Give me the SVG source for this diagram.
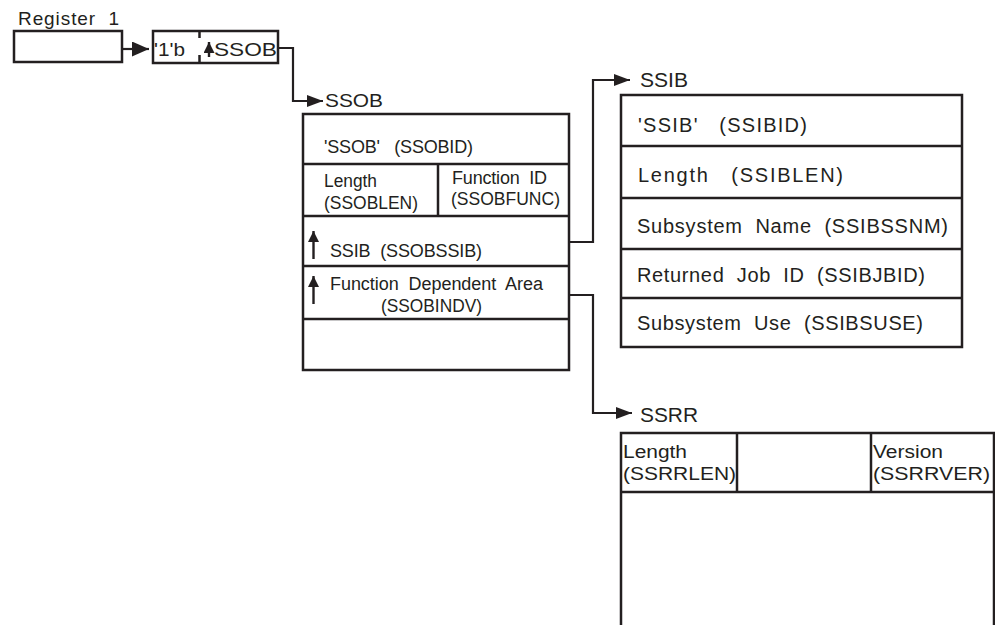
<svg xmlns="http://www.w3.org/2000/svg" width="995" height="625" viewBox="0 0 995 625">
<defs>
<marker id="ahL" viewBox="0 0 17 15" refX="17" refY="7.5" markerWidth="17" markerHeight="15" markerUnits="userSpaceOnUse" orient="auto">
<path d="M0,0 L17,7.5 L0,15 Z" fill="#231f20"/>
</marker>
<marker id="ah" viewBox="0 0 16 12" refX="16" refY="6" markerWidth="16" markerHeight="12" markerUnits="userSpaceOnUse" orient="auto">
<path d="M0,0 L16,6 L0,12 Z" fill="#231f20"/>
</marker>
<marker id="ahs" viewBox="0 0 11 11" refX="11" refY="5.5" markerWidth="11" markerHeight="11" markerUnits="userSpaceOnUse" orient="auto">
<path d="M0,0 L11,5.5 L0,11 Z" fill="#231f20"/>
</marker>
</defs>
<style>
.box{fill:none;stroke:#231f20;stroke-width:2.5}
.ln{fill:none;stroke:#231f20;stroke-width:2.5}
.cn{fill:none;stroke:#231f20;stroke-width:2.2}
.up{fill:none;stroke:#231f20;stroke-width:2.4}
text{font-family:"Liberation Sans",Arial,sans-serif;fill:#231f20;white-space:pre}
.s18{font-size:18px}
.s19{font-size:19px}
.s20{font-size:20px}
</style>
<rect width="995" height="625" fill="#fff"/>

<g id="register1">
<text class="s19" x="18" y="25" textLength="101" lengthAdjust="spacing">Register  1</text>
<rect class="box" x="14" y="31" width="108" height="31"/>
</g>

<g id="pointer">
<rect class="box" x="153" y="31" width="125" height="32"/>
<line class="ln" x1="199.5" y1="31" x2="199.5" y2="38"/>
<line class="ln" x1="199.5" y1="55" x2="199.5" y2="63"/>
<text class="s19" x="154" y="56" textLength="31" lengthAdjust="spacingAndGlyphs">'1'b</text>
<line class="up" x1="209" y1="57" x2="209" y2="42" marker-end="url(#ahs)"/>
<text class="s19" x="214" y="56" textLength="63" lengthAdjust="spacingAndGlyphs">SSOB</text>
</g>

<g id="ssob">
<text class="s19" x="325" y="107" textLength="58" lengthAdjust="spacingAndGlyphs">SSOB</text>
<rect class="box" x="303" y="114" width="266" height="256"/>
<line class="ln" x1="303" y1="164" x2="569" y2="164"/>
<line class="ln" x1="303" y1="216" x2="569" y2="216"/>
<line class="ln" x1="303" y1="266" x2="569" y2="266"/>
<line class="ln" x1="303" y1="319" x2="569" y2="319"/>
<line class="ln" x1="438" y1="164" x2="438" y2="216"/>
<text class="s18" x="324" y="153" textLength="149" lengthAdjust="spacing">'SSOB'   (SSOBID)</text>
<text class="s18" x="324" y="187" textLength="53" lengthAdjust="spacingAndGlyphs">Length</text>
<text class="s18" x="324" y="209" textLength="94" lengthAdjust="spacingAndGlyphs">(SSOBLEN)</text>
<text class="s18" x="452" y="184" textLength="95" lengthAdjust="spacing">Function  ID</text>
<text class="s18" x="451" y="205" textLength="109" lengthAdjust="spacingAndGlyphs">(SSOBFUNC)</text>
<line class="up" x1="313.5" y1="259" x2="313.5" y2="231" marker-end="url(#ahs)"/>
<text class="s18" x="330" y="257" textLength="152" lengthAdjust="spacing">SSIB  (SSOBSSIB)</text>
<line class="up" x1="313.5" y1="304" x2="313.5" y2="276" marker-end="url(#ahs)"/>
<text class="s18" x="330" y="290" textLength="213" lengthAdjust="spacing">Function  Dependent  Area</text>
<text class="s18" x="381" y="312" textLength="101" lengthAdjust="spacingAndGlyphs">(SSOBINDV)</text>
</g>

<g id="ssib">
<text class="s20" x="640" y="87" textLength="48" lengthAdjust="spacingAndGlyphs">SSIB</text>
<rect class="box" x="621" y="95" width="341" height="252"/>
<line class="ln" x1="621" y1="146" x2="962" y2="146"/>
<line class="ln" x1="621" y1="198" x2="962" y2="198"/>
<line class="ln" x1="621" y1="249" x2="962" y2="249"/>
<line class="ln" x1="621" y1="298" x2="962" y2="298"/>
<text class="s20" x="638" y="132" textLength="169" lengthAdjust="spacing">'SSIB'   (SSIBID)</text>
<text class="s20" x="638" y="182" textLength="205" lengthAdjust="spacing">Length   (SSIBLEN)</text>
<text class="s20" x="637" y="233" textLength="311" lengthAdjust="spacing">Subsystem  Name  (SSIBSSNM)</text>
<text class="s20" x="637" y="282" textLength="288" lengthAdjust="spacing">Returned  Job  ID  (SSIBJBID)</text>
<text class="s20" x="637" y="330" textLength="286" lengthAdjust="spacing">Subsystem  Use  (SSIBSUSE)</text>
</g>

<g id="ssrr">
<text class="s20" x="640" y="422" textLength="58" lengthAdjust="spacingAndGlyphs">SSRR</text>
<path class="box" d="M621,625 L621,433 L994,433 L994,625"/>
<line class="ln" x1="621" y1="492" x2="994" y2="492"/>
<line class="ln" x1="737" y1="433" x2="737" y2="492"/>
<line class="ln" x1="871" y1="433" x2="871" y2="492"/>
<text class="s18" x="623" y="458" textLength="64" lengthAdjust="spacingAndGlyphs">Length</text>
<text class="s18" x="623" y="480" textLength="113" lengthAdjust="spacingAndGlyphs">(SSRRLEN)</text>
<text class="s18" x="873" y="458" textLength="70" lengthAdjust="spacingAndGlyphs">Version</text>
<text class="s18" x="873" y="480" textLength="117" lengthAdjust="spacingAndGlyphs">(SSRRVER)</text>
</g>

<g id="connectors">
<line class="cn" x1="122" y1="49" x2="149" y2="49" marker-end="url(#ahL)"/>
<polyline class="cn" points="278,48 293,48 293,101 323,101" marker-end="url(#ah)"/>
<polyline class="cn" points="569,242 593,242 593,80 630,80" marker-end="url(#ah)"/>
<polyline class="cn" points="569,295 593,295 593,413 632,413" marker-end="url(#ah)"/>
</g>
</svg>
